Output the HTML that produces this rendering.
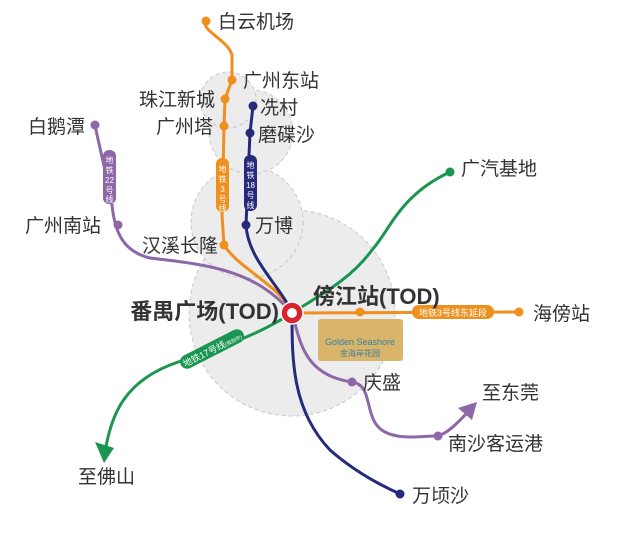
<!DOCTYPE html>
<html><head><meta charset="utf-8"><style>
html,body{margin:0;padding:0;background:#fff}
svg text{font-family:"Liberation Sans","Noto Sans CJK SC",sans-serif;fill:#333}
</style></head><body>
<svg width="619" height="529" viewBox="0 0 619 529" xmlns="http://www.w3.org/2000/svg">
<g fill="#ececec" stroke="#c8c8c8" stroke-dasharray="4 3" stroke-width="1">
<circle cx="292" cy="313" r="103"/>
<circle cx="247" cy="222" r="56"/>
<circle cx="251" cy="132" r="42"/>
<circle cx="228" cy="100" r="28"/>
</g>
<g fill="none" stroke-width="3" stroke-linecap="round">
<path d="M450 172 C400 195 390 230 372 250 C350 280 320 295 292 313 C250 340 210 350 170 365 C120 385 110 420 104 458" stroke="#1a9650"/>
<path d="M95 125 C100 150 108 180 112 205 C115 235 125 252 150 258 C210 265 255 270 292 313" stroke="#8d67a8"/>
<path d="M292 313 C300 340 303 375 352 382 C375 385 362 420 385 432 C400 440 420 436 438 436 C450 432 460 420 470 410" stroke="#8d67a8"/>
<path d="M206 21 C200 30 228 40 232 55 L232 80 L225 99 L224 126 L222 215 L224 245 C240 270 280 285 292 313 L519 312" stroke="#ef8f1d"/>
<path d="M253 106 L250 133 L246 225 C248 260 280 285 292 313 C292 360 292 410 330 450 C355 472 380 485 400 494" stroke="#252a7a"/>
</g>
<polygon points="104,463 95,442 114,448" fill="#1a9650"/>
<polygon points="477,402 458,408 472,420" fill="#8d67a8"/>
<rect x="216" y="158" width="13" height="54" rx="6" fill="#ef8f1d"/>
<text x="222.5" y="172" font-size="8" style="fill:#fff" text-anchor="middle">地</text>
<text x="222.5" y="182" font-size="8" style="fill:#fff" text-anchor="middle">铁</text>
<text x="222.5" y="192" font-size="8" style="fill:#fff" text-anchor="middle">3</text>
<text x="222.5" y="202" font-size="8" style="fill:#fff" text-anchor="middle">号</text>
<text x="222.5" y="211" font-size="8" style="fill:#fff" text-anchor="middle">线</text>
<rect x="244" y="155" width="13" height="56" rx="6" fill="#252a7a"/>
<text x="250.5" y="168" font-size="8" style="fill:#fff" text-anchor="middle">地</text>
<text x="250.5" y="178" font-size="8" style="fill:#fff" text-anchor="middle">铁</text>
<text x="250.5" y="188" font-size="8" style="fill:#fff" text-anchor="middle">18</text>
<text x="250.5" y="198" font-size="8" style="fill:#fff" text-anchor="middle">号</text>
<text x="250.5" y="208" font-size="8" style="fill:#fff" text-anchor="middle">线</text>
<rect x="103" y="150" width="13" height="54" rx="6" fill="#8d67a8"/>
<text x="109.5" y="163" font-size="8" style="fill:#fff" text-anchor="middle">地</text>
<text x="109.5" y="173" font-size="8" style="fill:#fff" text-anchor="middle">铁</text>
<text x="109.5" y="183" font-size="8" style="fill:#fff" text-anchor="middle">22</text>
<text x="109.5" y="193" font-size="8" style="fill:#fff" text-anchor="middle">号</text>
<text x="109.5" y="202" font-size="8" style="fill:#fff" text-anchor="middle">线</text>
<rect x="412" y="305" width="82" height="14" rx="7" fill="#ef8f1d"/>
<text x="453" y="316" font-size="9" style="fill:#fff" text-anchor="middle">地铁3号线东延段</text>
<g transform="translate(212,349) rotate(-27)">
<rect x="-35" y="-7" width="70" height="14" rx="7" fill="#1a9650"/>
<text x="0" y="4" font-size="9" style="fill:#fff" text-anchor="middle">地铁17号线<tspan font-size="5">(规划中)</tspan></text>
</g>
<rect x="318" y="319" width="85" height="42" rx="3" fill="#d8b56a"/>
<text x="360" y="345" font-size="9" style="fill:#3c7ea0" text-anchor="middle" font-family="Liberation Serif">Golden Seashore</text>
<text x="360" y="356" font-size="8" style="fill:#3c7ea0" text-anchor="middle">金海岸花园</text>
<g>
<circle cx="206" cy="21" r="4.5" fill="#ef8f1d"/>
<circle cx="232" cy="80" r="4.5" fill="#ef8f1d"/>
<circle cx="225" cy="99" r="4.5" fill="#ef8f1d"/>
<circle cx="224" cy="126" r="4.5" fill="#ef8f1d"/>
<circle cx="224" cy="245" r="4.5" fill="#ef8f1d"/>
<circle cx="360" cy="312" r="4.5" fill="#ef8f1d"/>
<circle cx="519" cy="312" r="4.5" fill="#ef8f1d"/>
<circle cx="253" cy="106" r="4.5" fill="#252a7a"/>
<circle cx="250" cy="133" r="4.5" fill="#252a7a"/>
<circle cx="246" cy="225" r="4.5" fill="#252a7a"/>
<circle cx="400" cy="494" r="4.5" fill="#252a7a"/>
<circle cx="95" cy="125" r="4.5" fill="#8d67a8"/>
<circle cx="118" cy="225" r="4.5" fill="#8d67a8"/>
<circle cx="352" cy="382" r="4.5" fill="#8d67a8"/>
<circle cx="438" cy="436" r="4.5" fill="#8d67a8"/>
<circle cx="450" cy="172" r="4.5" fill="#1a9650"/>
</g>
<circle cx="292" cy="313" r="11" fill="#d9232d" stroke="#fff" stroke-width="1.5"/>
<circle cx="292" cy="313" r="5" fill="#fff"/>
<g font-size="19">
<text x="218" y="28">白云机场</text>
<text x="243" y="87">广州东站</text>
<text x="215" y="106" text-anchor="end">珠江新城</text>
<text x="213" y="133" text-anchor="end">广州塔</text>
<text x="260" y="114">冼村</text>
<text x="258" y="141">磨碟沙</text>
<text x="28" y="133">白鹅潭</text>
<text x="25" y="232">广州南站</text>
<text x="218" y="252" text-anchor="end">汉溪长隆</text>
<text x="255" y="232">万博</text>
<text x="461" y="175">广汽基地</text>
<text x="533" y="320">海傍站</text>
<text x="363" y="389">庆盛</text>
<text x="482" y="399">至东莞</text>
<text x="448" y="450">南沙客运港</text>
<text x="78" y="483">至佛山</text>
<text x="412" y="502">万顷沙</text>
</g>
<text x="279" y="319" font-size="22" font-weight="bold" text-anchor="end">番禺广场(TOD)</text>
<text x="313" y="304" font-size="22" font-weight="bold">傍江站(TOD)</text>
</svg>
</body></html>
